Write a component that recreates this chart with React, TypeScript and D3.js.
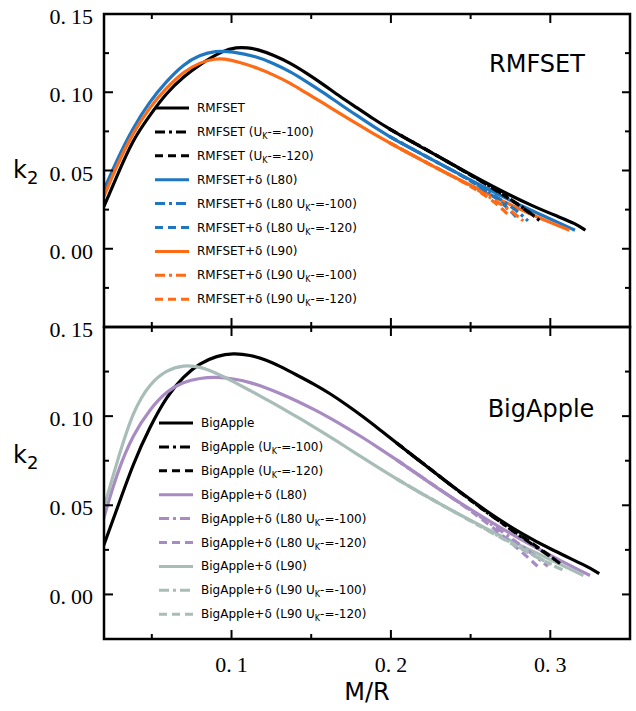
import React from "react";
import * as d3 from "d3";

// ---------- data (M/R, k2) ----------
const rmfset: [number, number][] = [
  [0.020, 0.0271], [0.028, 0.0462], [0.038, 0.0696], [0.049, 0.0856], [0.059, 0.0994],
  [0.070, 0.1100], [0.080, 0.1178], [0.095, 0.1268], [0.103, 0.1287], [0.110, 0.1285], [0.116, 0.1275],
  [0.126, 0.1239], [0.137, 0.1186], [0.147, 0.1122], [0.158, 0.1047], [0.168, 0.0973],
  [0.179, 0.0899], [0.189, 0.0830], [0.199, 0.0766], [0.210, 0.0700], [0.226, 0.0612],
  [0.247, 0.0490], [0.269, 0.0370], [0.289, 0.0272], [0.305, 0.0205], [0.316, 0.0160], [0.322, 0.0118],
];
const rmfsetU100: [number, number][] = [
  [0.199, 0.0766], [0.226, 0.0612], [0.247, 0.0490], [0.269, 0.0358], [0.285, 0.0250], [0.2935, 0.0178],
];
const rmfsetU120: [number, number][] = [
  [0.199, 0.0766], [0.226, 0.0612], [0.247, 0.0490], [0.269, 0.0355], [0.283, 0.0260], [0.290, 0.0205],
];
const rmfsetL80: [number, number][] = [
  [0.020, 0.0378], [0.028, 0.0565], [0.038, 0.0771], [0.049, 0.0945], [0.059, 0.1068],
  [0.070, 0.1180], [0.080, 0.1238], [0.090, 0.1264], [0.100, 0.1262], [0.116, 0.1228],
  [0.126, 0.1186], [0.137, 0.1132], [0.147, 0.1068], [0.158, 0.0996], [0.168, 0.0924],
  [0.179, 0.0849], [0.189, 0.0781], [0.199, 0.0718], [0.206, 0.0677], [0.226, 0.0568],
  [0.247, 0.0455], [0.269, 0.0338], [0.289, 0.0240], [0.305, 0.0168], [0.3155, 0.0118],
];
const rmfsetL80U100: [number, number][] = [
  [0.199, 0.0718], [0.226, 0.0568], [0.247, 0.0455], [0.266, 0.0335], [0.279, 0.0245], [0.286, 0.0178],
];
const rmfsetL80U120: [number, number][] = [
  [0.199, 0.0718], [0.226, 0.0568], [0.247, 0.0455], [0.264, 0.0342], [0.274, 0.0255], [0.279, 0.0198],
];
const rmfsetL90: [number, number][] = [
  [0.020, 0.0335], [0.028, 0.0530], [0.038, 0.0739], [0.049, 0.0909], [0.059, 0.1026],
  [0.070, 0.1132], [0.080, 0.1190], [0.090, 0.1215], [0.095, 0.1215], [0.105, 0.1192],
  [0.116, 0.1156], [0.126, 0.1113], [0.137, 0.1058], [0.147, 0.0994], [0.158, 0.0928],
  [0.168, 0.0864], [0.179, 0.0796], [0.189, 0.0736], [0.199, 0.0678], [0.2057, 0.0640],
  [0.226, 0.0530], [0.247, 0.0420], [0.269, 0.0310], [0.289, 0.0215], [0.303, 0.0155], [0.312, 0.0118],
];
const rmfsetL90U100: [number, number][] = [
  [0.199, 0.0678], [0.226, 0.0530], [0.247, 0.0420], [0.264, 0.0318], [0.276, 0.0238], [0.283, 0.0178],
];
const rmfsetL90U120: [number, number][] = [
  [0.199, 0.0678], [0.226, 0.0530], [0.247, 0.0420], [0.261, 0.0330], [0.270, 0.0255], [0.275, 0.0202],
];

const bigApple: [number, number][] = [
  [0.0196, 0.0270], [0.028, 0.0475], [0.0384, 0.0737], [0.0489, 0.0942], [0.0593, 0.1110],
  [0.0697, 0.1222], [0.0802, 0.1297], [0.0907, 0.1338], [0.1011, 0.1353], [0.1116, 0.1343],
  [0.1221, 0.1315], [0.1304, 0.1280], [0.1409, 0.1231], [0.1513, 0.1182], [0.1618, 0.1127],
  [0.1723, 0.1063], [0.1827, 0.0996], [0.1932, 0.0923], [0.2036, 0.0849], [0.2141, 0.0775],
  [0.2245, 0.0705], [0.2308, 0.0660], [0.2391, 0.0603], [0.2601, 0.0465], [0.281, 0.0345],
  [0.3019, 0.0245], [0.3228, 0.0160], [0.3307, 0.0117],
];
const bigAppleU100: [number, number][] = [
  [0.2036, 0.0849], [0.2245, 0.0705], [0.2391, 0.0603], [0.2601, 0.0460], [0.281, 0.0328],
  [0.295, 0.0242], [0.303, 0.0195],
];
const bigAppleU120: [number, number][] = [
  [0.2036, 0.0849], [0.2245, 0.0705], [0.2391, 0.0603], [0.2601, 0.0458], [0.281, 0.0332],
  [0.297, 0.0236], [0.308, 0.0160],
];
const bigAppleL80: [number, number][] = [
  [0.0196, 0.0420], [0.028, 0.0680], [0.0384, 0.0900], [0.0489, 0.1040], [0.0593, 0.1140],
  [0.0697, 0.1192], [0.0802, 0.1214], [0.0907, 0.1220], [0.1011, 0.1210], [0.1116, 0.1190],
  [0.1221, 0.1158], [0.1304, 0.1128], [0.1409, 0.1086], [0.1513, 0.1040], [0.1618, 0.0990],
  [0.1723, 0.0935], [0.1827, 0.0878], [0.1932, 0.0817], [0.2036, 0.0755], [0.2141, 0.0690],
  [0.2245, 0.0626], [0.2308, 0.0587], [0.2391, 0.0538], [0.2601, 0.0420], [0.281, 0.0311],
  [0.3019, 0.0210], [0.3249, 0.0106],
];
const bigAppleL80U100: [number, number][] = [
  [0.2036, 0.0755], [0.2245, 0.0626], [0.2391, 0.0538], [0.2601, 0.0412], [0.281, 0.0282],
  [0.2985, 0.0158],
];
const bigAppleL80U120: [number, number][] = [
  [0.2036, 0.0755], [0.2245, 0.0626], [0.2391, 0.0538], [0.2601, 0.0406], [0.2805, 0.0252],
  [0.292, 0.0158],
];
const bigAppleL90: [number, number][] = [
  [0.0196, 0.0475], [0.028, 0.0740], [0.0384, 0.1035], [0.0489, 0.1185], [0.0593, 0.1259],
  [0.0697, 0.1287], [0.0802, 0.1278], [0.0907, 0.1241], [0.1011, 0.1194], [0.1116, 0.1144],
  [0.1221, 0.1093], [0.1304, 0.1051], [0.1409, 0.0997], [0.1513, 0.0942], [0.1618, 0.0884],
  [0.1723, 0.0824], [0.1827, 0.0765], [0.1932, 0.0705], [0.2036, 0.0648], [0.2141, 0.0592],
  [0.2245, 0.0539], [0.2308, 0.0508], [0.2391, 0.0467], [0.2601, 0.0368], [0.281, 0.0276],
  [0.3019, 0.0188], [0.3208, 0.0106],
];
const bigAppleL90U100: [number, number][] = [
  [0.2036, 0.0648], [0.2245, 0.0539], [0.2391, 0.0467], [0.2601, 0.0363], [0.281, 0.0263],
  [0.300, 0.0168], [0.310, 0.0130],
];
const bigAppleL90U120: [number, number][] = [
  [0.2036, 0.0648], [0.2245, 0.0539], [0.2391, 0.0467], [0.2601, 0.0361], [0.281, 0.0260],
  [0.296, 0.0185], [0.304, 0.0158],
];

const topLabels = [
  "RMFSET", "RMFSET (U_K-=-100)", "RMFSET (U_K-=-120)",
  "RMFSET+δ (L80)", "RMFSET+δ (L80 U_K-=-100)", "RMFSET+δ (L80 U_K-=-120)",
  "RMFSET+δ (L90)", "RMFSET+δ (L90 U_K-=-100)", "RMFSET+δ (L90 U_K-=-120)",
];
const bottomLabels = [
  "BigApple", "BigApple (U_K-=-100)", "BigApple (U_K-=-120)",
  "BigApple+δ (L80)", "BigApple+δ (L80 U_K-=-100)", "BigApple+δ (L80 U_K-=-120)",
  "BigApple+δ (L90)", "BigApple+δ (L90 U_K-=-100)", "BigApple+δ (L90 U_K-=-120)",
];
const topSeries = [rmfset, rmfsetU100, rmfsetU120, rmfsetL80, rmfsetL80U100, rmfsetL80U120, rmfsetL90, rmfsetL90U100, rmfsetL90U120];
const bottomSeries = [bigApple, bigAppleU100, bigAppleU120, bigAppleL80, bigAppleL80U100, bigAppleL80U120, bigAppleL90, bigAppleL90U100, bigAppleL90U120];
const topColors = ["#000000", "#1f77c1", "#ff6a14"];
const bottomColors = ["#000000", "#a78bc2", "#a8bdb8"];
const styles = ["solid", "dashdot", "dashed"];

const xMajorTicks = [0.1, 0.2, 0.3];
const xMinorTicks = [0.05, 0.15, 0.25];
const yMajorTicks = [0.0, 0.05, 0.1, 0.15];
const yMinorTicks = [-0.025, 0.025, 0.075, 0.125];

// ---------- layout ----------
const W = 636, H = 711;
const L = 104, R = 630;
const T1 = 14, B1 = 327, B2 = 639;
const SANS = "'DejaVu Sans', Verdana, sans-serif";
const SERIF = "'Liberation Serif', 'DejaVu Serif', serif";

const x = d3.scaleLinear().domain([0.02, 0.35]).range([L, R]);
const yTop = d3.scaleLinear().domain([-0.05, 0.15]).range([B1, T1]);
const yBot = d3.scaleLinear().domain([-0.025, 0.15]).range([B2, B1]);

const dashOf = (s: string) => (s === "dashdot" ? "9,4,3,4" : s === "dashed" ? "8,5" : undefined);
const legendDash = (s: string) => (s === "dashdot" ? "10,4,3,4" : s === "dashed" ? "8,5" : undefined);

function LegendText({ label, xPos, yPos }: { label: string; xPos: number; yPos: number }) {
  const idx = label.indexOf("_K");
  if (idx < 0) {
    return (
      <text x={xPos} y={yPos} fontFamily={SANS} fontSize={12} fill="#000" dominantBaseline="central">
        {label}
      </text>
    );
  }
  return (
    <text x={xPos} y={yPos} fontFamily={SANS} fontSize={12} fill="#000" dominantBaseline="central">
      {label.slice(0, idx)}
      <tspan dy={4} fontSize={8}>K</tspan>
      <tspan dy={-4}>{label.slice(idx + 2)}</tspan>
    </text>
  );
}

function Panel({
  y, top, bottom, series, labels, colors, legendX, legendY, title, titleX, titleY, id,
}: any) {
  const line = d3.line<[number, number]>().x((d) => x(d[0])).y((d) => y(d[1])).curve(d3.curveBasis);
  const order: number[] = [0, 3, 6, 1, 2, 4, 5, 7, 8];
  return (
    <g>
      <defs>
        <clipPath id={id}>
          <rect x={L} y={top} width={R - L} height={bottom - top} />
        </clipPath>
      </defs>
      <g clipPath={`url(#${id})`}>
        {order.map((i) => (
          <path
            key={i}
            d={line(series[i]) || ""}
            fill="none"
            stroke={colors[Math.floor(i / 3)]}
            strokeWidth={3.2}
            strokeDasharray={dashOf(styles[i % 3])}
            strokeLinecap="butt"
            strokeLinejoin="round"
          />
        ))}
      </g>
      {labels.map((lab: string, i: number) => {
        const yy = legendY + i * 23.9;
        return (
          <g key={lab}>
            <line
              x1={legendX}
              x2={legendX + 34}
              y1={yy}
              y2={yy}
              stroke={colors[Math.floor(i / 3)]}
              strokeWidth={3}
              strokeDasharray={legendDash(styles[i % 3])}
            />
            <LegendText label={lab} xPos={legendX + 42} yPos={yy} />
          </g>
        );
      })}
      <text x={titleX} y={titleY} fontFamily={SANS} fontSize={24} textAnchor="middle" fill="#000">
        {title}
      </text>
      {xMajorTicks.map((t) => (
        <g key={"xM" + t}>
          <line x1={x(t)} x2={x(t)} y1={bottom} y2={bottom - 9} stroke="#000" strokeWidth={2} />
          <line x1={x(t)} x2={x(t)} y1={top} y2={top + 9} stroke="#000" strokeWidth={2} />
        </g>
      ))}
      {xMinorTicks.map((t) => (
        <g key={"xm" + t}>
          <line x1={x(t)} x2={x(t)} y1={bottom} y2={bottom - 5} stroke="#000" strokeWidth={2} />
          <line x1={x(t)} x2={x(t)} y1={top} y2={top + 5} stroke="#000" strokeWidth={2} />
        </g>
      ))}
      {yMajorTicks.map((t) => (
        <g key={"yM" + t}>
          <line x1={L} x2={L + 9} y1={y(t)} y2={y(t)} stroke="#000" strokeWidth={2} />
          <line x1={R} x2={R - 8} y1={y(t)} y2={y(t)} stroke="#000" strokeWidth={2} />
        </g>
      ))}
      {yMinorTicks.map((t) => (
        <g key={"ym" + t}>
          <line x1={L} x2={L + 5} y1={y(t)} y2={y(t)} stroke="#000" strokeWidth={2} />
          <line x1={R} x2={R - 5} y1={y(t)} y2={y(t)} stroke="#000" strokeWidth={2} />
        </g>
      ))}
      {yMajorTicks.map((t) => {
        const s = d3.format(".2f")(t);
        return (
          <text key={"yl" + t} x={93} y={y(t) + 10} fontFamily={SERIF} fontSize={22} textAnchor="end" fill="#000">
            {s.slice(0, 2)}
            <tspan dx={5}>{s.slice(2)}</tspan>
          </text>
        );
      })}
      <rect x={L} y={top} width={R - L} height={bottom - top} fill="none" stroke="#000" strokeWidth={2.5} />
    </g>
  );
}

export default function App() {
  return (
    <svg
      width={W}
      height={H}
      viewBox={`0 0 ${W} ${H}`}
      style={{ position: "absolute", left: 0, top: 0, background: "#fff" }}
    >
      <rect width={W} height={H} fill="#fff" />
      <Panel
        id="clipTop"
        y={yTop}
        top={T1}
        bottom={B1}
        series={topSeries}
        labels={topLabels}
        colors={topColors}
        legendX={155}
        legendY={108}
        title="RMFSET"
        titleX={537}
        titleY={72}
      />
      <Panel
        id="clipBot"
        y={yBot}
        top={B1}
        bottom={B2}
        series={bottomSeries}
        labels={bottomLabels}
        colors={bottomColors}
        legendX={159}
        legendY={423}
        title="BigApple"
        titleX={541}
        titleY={417}
      />
      {xMajorTicks.map((t) => {
        const s = d3.format(".1f")(t);
        return (
          <text key={"xl" + t} x={x(t)} y={672} fontFamily={SERIF} fontSize={22} textAnchor="middle" fill="#000">
            {s.slice(0, 2)}
            <tspan dx={5}>{s.slice(2)}</tspan>
          </text>
        );
      })}
      <text x={367} y={700} fontFamily={SANS} fontSize={24} textAnchor="middle" fill="#000">M/R</text>
      <text x={13} y={178} fontFamily={SANS} fontSize={24} fill="#000">
        k<tspan dy={6} fontSize={18}>2</tspan>
      </text>
      <text x={13} y={463} fontFamily={SANS} fontSize={24} fill="#000">
        k<tspan dy={6} fontSize={18}>2</tspan>
      </text>
    </svg>
  );
}
